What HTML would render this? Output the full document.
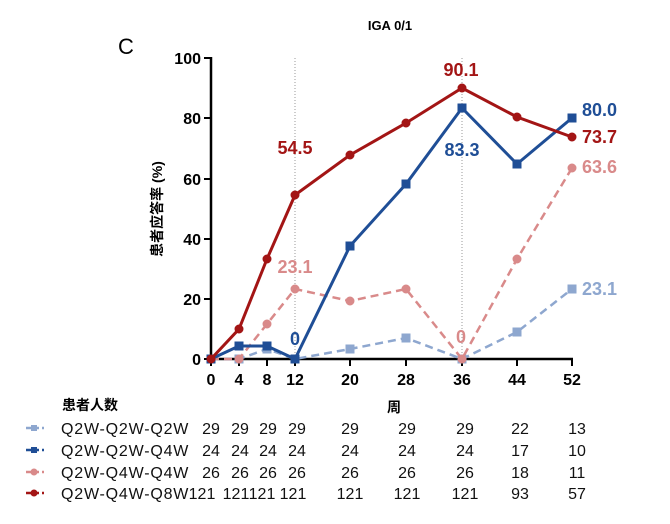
<!DOCTYPE html>
<html><head><meta charset="utf-8"><style>
body{margin:0;background:#fff;}
svg{display:block;font-family:"Liberation Sans","Noto Sans CJK SC",sans-serif;}
.b{font-weight:bold}
</style></head><body>
<svg width="670" height="524" viewBox="0 0 670 524">
<text x="390" y="30" class="b" font-size="13" text-anchor="middle">IGA 0/1</text>
<text x="118" y="54" font-size="22">C</text>
<line x1="295" y1="58" x2="295" y2="359" stroke="#999" stroke-dasharray="1,2"/>
<line x1="462" y1="58" x2="462" y2="359" stroke="#999" stroke-dasharray="1,2"/>
<g stroke="#000" stroke-width="2.5" fill="none">
<line x1="211" y1="57" x2="211" y2="360"/>
<line x1="210" y1="359" x2="573" y2="359"/>
</g>
<g stroke="#000" stroke-width="2">
<line x1="204" y1="58" x2="211" y2="58"/><line x1="204" y1="118" x2="211" y2="118"/><line x1="204" y1="179" x2="211" y2="179"/><line x1="204" y1="239" x2="211" y2="239"/><line x1="204" y1="299" x2="211" y2="299"/><line x1="204" y1="359" x2="211" y2="359"/>
<line x1="211" y1="359" x2="211" y2="366"/><line x1="239" y1="359" x2="239" y2="366"/><line x1="267" y1="359" x2="267" y2="366"/><line x1="295" y1="359" x2="295" y2="366"/><line x1="350" y1="359" x2="350" y2="366"/><line x1="406" y1="359" x2="406" y2="366"/><line x1="462" y1="359" x2="462" y2="366"/><line x1="517" y1="359" x2="517" y2="366"/><line x1="572" y1="359" x2="572" y2="366"/>
</g>
<g class="b" font-size="16" text-anchor="end">
<text x="201" y="64">100</text><text x="201" y="124">80</text><text x="201" y="185">60</text><text x="201" y="245">40</text><text x="201" y="305">20</text><text x="201" y="365">0</text>
</g>
<g class="b" font-size="16" text-anchor="middle">
<text x="211" y="385">0</text><text x="239" y="385">4</text><text x="267" y="385">8</text><text x="295" y="385">12</text><text x="350" y="385">20</text><text x="406" y="385">28</text><text x="462" y="385">36</text><text x="517" y="385">44</text><text x="572" y="385">52</text>
</g>
<text transform="translate(162,209) rotate(-90)" class="b" font-size="14" text-anchor="middle">患者应答率 (%)</text>
<g stroke="#8ea7cf" fill="#8ea7cf">
<polyline fill="none" stroke-width="2.5" stroke-dasharray="8,5" points="211,359 239,359 267,349 295,359 350,349 406,338 462,359 517,332 572,289"/>
<rect x="207" y="355" width="8" height="8"/><rect x="235" y="355" width="8" height="8"/><rect x="263" y="345" width="8" height="8"/><rect x="291" y="355" width="8" height="8"/><rect x="346" y="345" width="8" height="8"/><rect x="402" y="334" width="8" height="8"/><rect x="458" y="355" width="8" height="8"/><rect x="513" y="328" width="8" height="8"/><rect x="568" y="285" width="8" height="8"/>
</g>
<g stroke="#d98a8a" fill="#d98a8a">
<polyline fill="none" stroke-width="2.5" stroke-dasharray="8,5" points="211,359 239,359 267,324 295,289 350,301 406,289 462,359 517,259 572,168"/>
<circle cx="211" cy="359" r="4"/><circle cx="239" cy="359" r="4"/><circle cx="267" cy="324" r="4"/><circle cx="295" cy="289" r="4"/><circle cx="350" cy="301" r="4"/><circle cx="406" cy="289" r="4"/><circle cx="462" cy="359" r="4"/><circle cx="517" cy="259" r="4"/><circle cx="572" cy="168" r="4"/>
</g>
<g stroke="#1f4e96" fill="#1f4e96">
<polyline fill="none" stroke-width="3" points="211,359 239,346 267,346 295,359 350,246 406,184 462,108 517,164 572,118"/>
<rect x="207" y="355" width="8" height="8"/><rect x="235" y="342" width="8" height="8"/><rect x="263" y="342" width="8" height="8"/><rect x="291" y="355" width="8" height="8"/><rect x="346" y="242" width="8" height="8"/><rect x="402" y="180" width="8" height="8"/><rect x="458" y="104" width="8" height="8"/><rect x="513" y="160" width="8" height="8"/><rect x="568" y="114" width="8" height="8"/>
</g>
<g stroke="#a31515" fill="#a31515">
<polyline fill="none" stroke-width="3" points="211,359 239,329 267,259 295,195 350,155 406,123 462,88 517,117 572,137"/>
<circle cx="211" cy="359" r="4"/><circle cx="239" cy="329" r="4"/><circle cx="267" cy="259" r="4"/><circle cx="295" cy="195" r="4"/><circle cx="350" cy="155" r="4"/><circle cx="406" cy="123" r="4"/><circle cx="462" cy="88" r="4"/><circle cx="517" cy="117" r="4"/><circle cx="572" cy="137" r="4"/>
</g>
<g class="b" font-size="18">
<text x="295" y="154" fill="#a31515" text-anchor="middle">54.5</text>
<text x="461" y="76" fill="#a31515" text-anchor="middle">90.1</text>
<text x="462" y="156" fill="#1f4e96" text-anchor="middle">83.3</text>
<text x="295" y="273" fill="#d98a8a" text-anchor="middle">23.1</text>
<text x="295" y="345" fill="#1f4e96" text-anchor="middle">0</text>
<text x="461" y="343" fill="#d98a8a" text-anchor="middle">0</text>
<text x="582" y="116" fill="#1f4e96">80.0</text>
<text x="582" y="143" fill="#a31515">73.7</text>
<text x="582" y="173" fill="#d98a8a">63.6</text>
<text x="582" y="295" fill="#8ea7cf">23.1</text>
</g>
<text x="62" y="410" class="b" font-size="14">患者人数</text>
<text x="394" y="412" class="b" font-size="14" text-anchor="middle">周</text>
<g stroke-width="2.5" stroke-dasharray="5,3">
<line x1="26" y1="428" x2="44" y2="428" stroke="#8ea7cf"/>
<line x1="26" y1="450" x2="44" y2="450" stroke="#1f4e96"/>
<line x1="26" y1="472" x2="44" y2="472" stroke="#d98a8a"/>
<line x1="26" y1="493" x2="44" y2="493" stroke="#a31515"/>
</g>
<rect x="31" y="425" width="6" height="6" fill="#8ea7cf"/>
<rect x="31" y="447" width="6" height="6" fill="#1f4e96"/>
<circle cx="34" cy="472" r="3.5" fill="#d98a8a"/>
<circle cx="34" cy="493" r="3.5" fill="#a31515"/>
<g font-size="16" fill="#111" letter-spacing="0.8">
<text x="61" y="434">Q2W-Q2W-Q2W</text>
<text x="61" y="456">Q2W-Q2W-Q4W</text>
<text x="61" y="478">Q2W-Q4W-Q4W</text>
<text x="61" y="499">Q2W-Q4W-Q8W</text>
</g>
<g font-size="16" fill="#111" text-anchor="middle">
<text x="211" y="434">29</text><text x="240" y="434">29</text><text x="268" y="434">29</text><text x="297" y="434">29</text><text x="350" y="434">29</text><text x="407" y="434">29</text><text x="465" y="434">29</text><text x="520" y="434">22</text><text x="577" y="434">13</text>
<text x="211" y="456">24</text><text x="240" y="456">24</text><text x="268" y="456">24</text><text x="297" y="456">24</text><text x="350" y="456">24</text><text x="407" y="456">24</text><text x="465" y="456">24</text><text x="520" y="456">17</text><text x="577" y="456">10</text>
<text x="211" y="478">26</text><text x="240" y="478">26</text><text x="268" y="478">26</text><text x="297" y="478">26</text><text x="350" y="478">26</text><text x="407" y="478">26</text><text x="465" y="478">26</text><text x="520" y="478">18</text><text x="577" y="478">11</text>
<text x="202" y="499">121</text><text x="236" y="499">121</text><text x="262" y="499">121</text><text x="293" y="499">121</text><text x="350" y="499">121</text><text x="407" y="499">121</text><text x="465" y="499">121</text><text x="520" y="499">93</text><text x="577" y="499">57</text>
</g>
</svg>
</body></html>
